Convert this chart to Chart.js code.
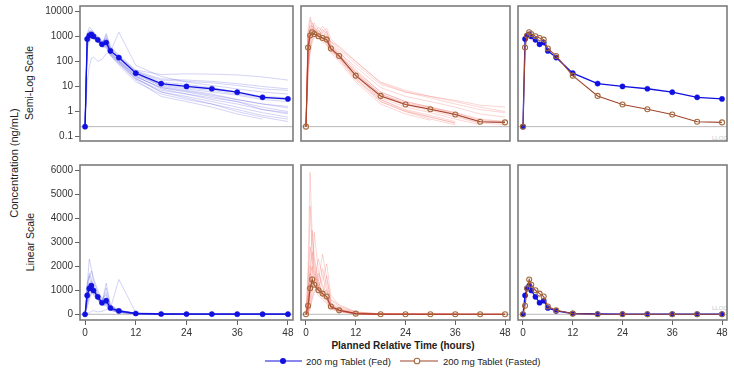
<!DOCTYPE html>
<html><head><meta charset="utf-8">
<script src="https://cdn.jsdelivr.net/npm/chart.js@4.4.1/dist/chart.umd.min.js"></script>
<style>
html,body{margin:0;padding:0;background:#fff;}
#wrap{position:relative;width:734px;height:369px;overflow:hidden;font-family:'Liberation Sans',Arial,sans-serif;color:#222;}
#wrap canvas{position:absolute;}
.vt{position:absolute;white-space:nowrap;transform:translate(-50%,-50%) rotate(-90deg);font-size:11px;}
.ht{position:absolute;white-space:nowrap;transform:translate(-50%,-50%);}
.lg{position:absolute;white-space:nowrap;font-size:9.5px;transform:translateY(-50%);}
.lq{position:absolute;font-size:6px;color:#c8c8c8;}
</style></head>
<body>
<div id="wrap">
  <div class="vt" style="left:14px;top:163px;">Concentration (ng/mL)</div>
  <div class="vt" style="left:29px;top:83px;font-size:10.5px;">Semi-Log Scale</div>
  <div class="vt" style="left:30px;top:242px;font-size:10.5px;">Linear Scale</div>
  <div class="ht" style="left:403px;top:345px;font-size:10px;font-weight:bold;">Planned Relative Time (hours)</div>
  <svg style="position:absolute;left:265px;top:356px" width="37" height="10"><line x1="0" y1="5" x2="37" y2="5" stroke="#1010e0" stroke-width="1.2"/><circle cx="18" cy="5" r="3" fill="#1010e0"/></svg>
  <div class="lg" style="left:306px;top:361px;">200 mg Tablet (Fed)</div>
  <svg style="position:absolute;left:400px;top:356px" width="38" height="10"><line x1="0" y1="5" x2="38" y2="5" stroke="#a0452c" stroke-width="1.2"/><circle cx="17" cy="5" r="2.8" fill="#fff" stroke="#a46a3c" stroke-width="1.1"/></svg>
  <div class="lg" style="left:443px;top:361px;">200 mg Tablet (Fasted)</div>
  <div class="lq" style="left:712px;top:135px;">LLOQ</div>
  <div class="lq" style="left:712px;top:305px;">LLOQ</div>
</div>
<script>
// ---------- data ----------
const TIMES = [0, 0.5, 1, 1.5, 2, 3, 4, 5, 6, 8, 12, 18, 24, 30, 36, 42, 48];
const X_TICKS = [0, 12, 24, 36, 48];
const Y_LOG_TICKS = [0.1, 1, 10, 100, 1000, 10000];
const Y_LIN_TICKS = [0, 1000, 2000, 3000, 4000, 5000, 6000];
const LLOQ = 0.25;

const FED_MEAN    = [0.25, 785, 1075, 1190, 990, 725, 480, 565, 262, 142, 34, 13, 10, 8.1, 5.9, 3.7, 3.2];
const FASTED_MEAN = [0.25, 355, 1080, 1450, 1230, 1000, 860, 740, 325, 165, 27, 4.2, 1.9, 1.23, 0.76, 0.39, 0.37];

const FED_SUBJECTS = [
  [0.25, 900, 1500, 1800, 1400, 900, 600, 700, 300, 120, 30, 12, 9, 7, 5, 3.5, 3],
  [0.25, 1200, 2300, 1900, 1500, 1000, 650, 800, 350, 150, 40, 15, 12, 9, 6, 4, 3.5],
  [0.25, 600, 900, 1100, 1000, 700, 450, 1300, 400, 180, 45, 30, 32, 31, 29, 24, 18],
  [0.25, 400, 800, 1000, 900, 650, 400, 500, 200, 90, 20, 7, 5, 3.5, 2.5, 1.5, 1],
  [0.25, 1000, 1300, 1200, 1000, 700, 500, 450, 220, 100, 25, 9, 6, 4, 2.5, 1.2, 0.8],
  [0.25, 15, 60, 130, 150, 100, 120, 200, 250, 1450, 70, 25, 15, 11, 8, 6, 5],
  [0.25, 700, 1100, 1300, 1100, 800, 550, 900, 300, 130, 35, 10, 7, 5, 3, 2, 1.4],
  [0.25, 500, 700, 900, 800, 600, 380, 400, 180, 70, 15, 5, 3, 2, 1.2, 0.7, 0.5],
  [0.25, 1100, 1700, 1500, 1200, 800, 500, 600, 260, 110, 28, 11, 8, 6, 4.5, 3, 2.5],
  [0.25, 800, 1000, 1100, 950, 650, 420, 480, 210, 95, 22, 6, 4, 2.5, 1.5, 0.9, 0.6],
  [0.25, 950, 1200, 1000, 850, 600, 380, 350, 170, 80, 18, 4, 2.5, 1.5, 0.8, 0.5, null],
  [0.25, 650, 1250, 1400, 1150, 750, 520, 620, 280, 140, 38, 18, 16, 14, 11, 8, 7],
  [0.25, 300, 600, 850, 1000, 800, 500, 550, 240, 110, 26, 8, 5, 3, 2, 1.2, 0.9],
  [0.25, 1300, 1600, 1300, 1000, 650, 420, 400, 190, 85, 20, 6, 3.5, 2, 1, 0.6, 0.4],
  [0.25, 750, 1050, 1250, 1100, 750, 480, 1100, 350, 160, 42, 20, 18, 16, 13, 10, 8],
  [0.25, 550, 950, 1150, 1000, 700, 440, 520, 230, 100, 24, 9, 6.5, 4.5, 3, 2, 1.6]
];

const FASTED_SUBJECTS = [
  [0.25, 2000, 5900, 3200, 2200, 1300, 900, 700, 350, 180, 40, 6, 2.5, 1.5, 0.9, 0.45, 0.4],
  [0.25, 500, 4500, 2500, 1800, 1100, 800, 650, 300, 150, 30, 5, 2, 1.3, 0.8, 0.4, 0.35],
  [0.25, 100, 800, 1500, 3400, 1800, 1200, 900, 400, 200, 35, 4.5, 2, 1.2, 0.7, 0.35, null],
  [0.25, 50, 400, 900, 1400, 2300, 1600, 1000, 450, 220, 60, 9, 4, 2.5, 1.5, 0.8, 0.6],
  [0.25, 300, 1200, 1600, 1500, 1400, 2500, 1500, 600, 300, 80, 12, 6, 4, 2.5, 1.5, 1.0],
  [0.25, 30, 200, 600, 900, 1200, 1400, 2100, 800, 350, 100, 15, 7, 4, 2.8, 1.8, 1.5],
  [0.25, 800, 2000, 1800, 1500, 1000, 700, 500, 250, 120, 20, 3, 1.2, 0.7, 0.4, null, null],
  [0.25, 150, 900, 1300, 1200, 900, 800, 1600, 500, 250, 45, 6, 2.5, 1.5, 0.9, 0.5, 0.4],
  [0.25, 1500, 2800, 2200, 1700, 1100, 750, 600, 280, 140, 25, 3.5, 1.5, 0.9, 0.5, 0.3, null],
  [0.25, 400, 1500, 2600, 2000, 1200, 850, 700, 320, 160, 30, 4, 1.8, 1.1, 0.6, 0.35, 0.3],
  [0.25, 80, 600, 1100, 1300, 1700, 1100, 800, 350, 170, 28, 3, 1.1, 0.6, 0.35, null, null],
  [0.25, 600, 1800, 3500, 2400, 1400, 900, 650, 300, 150, 22, 2.5, 1, 0.5, 0.3, null, null],
  [0.25, 250, 1100, 1400, 1300, 1000, 1900, 1200, 400, 180, 35, 5, 2.2, 1.4, 0.8, 0.4, 0.35],
  [0.25, 1000, 1700, 1500, 1200, 800, 600, 450, 220, 100, 15, 2, 0.8, 0.45, null, null, null],
  [0.25, 40, 300, 700, 1000, 1100, 900, 1000, 600, 400, 100, 14, 6, 3.5, 2, 1.2, 0.9],
  [0.25, 200, 1300, 2000, 1600, 1100, 800, 600, 280, 130, 18, 2.5, 1, 0.6, 0.35, null, null]
];

// ---------- styling / layout ----------
const FONT = "'Liberation Sans', Arial, sans-serif";
const FED_COLOR = '#1010e0';
const FAST_LINE = '#a0452c';
const FAST_MARK = '#a46a3c';
const FED_IND = 'rgba(80,80,225,0.25)';
const FAST_IND = 'rgba(238,70,60,0.22)';

const COLS = [{left: 80, w: 213}, {left: 296, w: 214}, {left: 513, w: 214}];
const ROWS = [{top: 6, h: 155}, {top: 165, h: 155}];

function pts(vals) { return TIMES.map((t, i) => ({x: t, y: vals[i]})); }
function indiv(vals, color) {
  return {data: pts(vals), borderColor: color, borderWidth: 1, pointRadius: 0, tension: 0, spanGaps: false};
}
function fedMean() {
  return {data: pts(FED_MEAN), borderColor: FED_COLOR, borderWidth: 1.3, pointRadius: 2.6,
    pointBackgroundColor: FED_COLOR, pointBorderColor: FED_COLOR, pointBorderWidth: 0.5, tension: 0};
}
function fastMean() {
  return {data: pts(FASTED_MEAN), borderColor: FAST_LINE, borderWidth: 1.1, pointRadius: 2.5,
    pointBackgroundColor: 'rgba(255,255,255,0)', pointBorderColor: FAST_MARK, pointBorderWidth: 1.1, tension: 0};
}

const panelPlugin = {
  id: 'panel',
  beforeDatasetsDraw(chart) {
    const {ctx, chartArea: a} = chart;
    const py = chart.scales.y.getPixelForValue(LLOQ);
    ctx.save();
    ctx.strokeStyle = '#b8b8b8'; ctx.lineWidth = 1;
    ctx.beginPath(); ctx.moveTo(a.left, py); ctx.lineTo(a.right, py); ctx.stroke();
    ctx.restore();
  },
  afterDraw(chart) {
    const {ctx, chartArea: a} = chart;
    ctx.save();
    ctx.strokeStyle = '#7c7c7c'; ctx.lineWidth = 1.6;
    ctx.strokeRect(a.left, a.top, a.right - a.left, a.bottom - a.top);
    ctx.restore();
  }
};

const wrap = document.getElementById('wrap');

function makePanel(c, r) {
  const col = COLS[c], row = ROWS[r];
  const lm = c === 0 ? 40 : 5, rm = 10, tm = 8, bm = r === 0 ? 5 : 22;
  const cv = document.createElement('canvas');
  const W = lm + col.w + rm, H = tm + row.h + bm;
  cv.width = W; cv.height = H;
  cv.style.left = (col.left - lm) + 'px';
  cv.style.top = (row.top - tm) + 'px';
  cv.style.width = W + 'px'; cv.style.height = H + 'px';
  wrap.appendChild(cv);

  let datasets;
  if (c === 0) datasets = [fedMean()].concat(FED_SUBJECTS.map(s => indiv(s, FED_IND)));
  else if (c === 1) datasets = [fastMean()].concat(FASTED_SUBJECTS.map(s => indiv(s, FAST_IND)));
  else datasets = [fastMean(), fedMean()];

  const tickFont = {family: FONT, size: 10};
  const yScale = r === 0 ? {
    type: 'logarithmic', min: 0.067, max: 16150,
    afterBuildTicks: s => { s.ticks = Y_LOG_TICKS.map(v => ({value: v})); }
  } : {
    type: 'linear', min: -237, max: 6208,
    afterBuildTicks: s => { s.ticks = Y_LIN_TICKS.map(v => ({value: v})); }
  };
  Object.assign(yScale, {
    display: c === 0,
    afterFit: s => { s.width = lm; },
    grid: {display: true, drawOnChartArea: false, drawTicks: true, tickLength: 5, color: '#666'},
    border: {display: false},
    ticks: {font: tickFont, color: '#333', padding: 2, autoSkip: false, callback: v => String(v)}
  });

  new Chart(cv, {
    type: 'line',
    data: {datasets},
    options: {
      responsive: false, maintainAspectRatio: false, animation: false, devicePixelRatio: 1,
      layout: {padding: {left: c === 0 ? 0 : lm, right: rm, top: tm, bottom: r === 0 ? bm : 2}},
      plugins: {legend: {display: false}, tooltip: {enabled: false}},
      elements: {line: {tension: 0}},
      scales: {
        x: {
          type: 'linear', min: -1.2, max: 49.2, display: r === 1,
          afterBuildTicks: s => { s.ticks = X_TICKS.map(v => ({value: v})); },
          afterFit: s => { s.height = 20; },
          grid: {display: true, drawOnChartArea: false, drawTicks: true, tickLength: 5, color: '#666'},
          border: {display: false},
          ticks: {font: tickFont, color: '#333', padding: 2, maxRotation: 0, autoSkip: false, callback: v => String(v)}
        },
        y: yScale
      }
    },
    plugins: [panelPlugin]
  });
}

for (let r = 0; r < 2; r++) for (let c = 0; c < 3; c++) makePanel(c, r);
</script>
</body></html>
